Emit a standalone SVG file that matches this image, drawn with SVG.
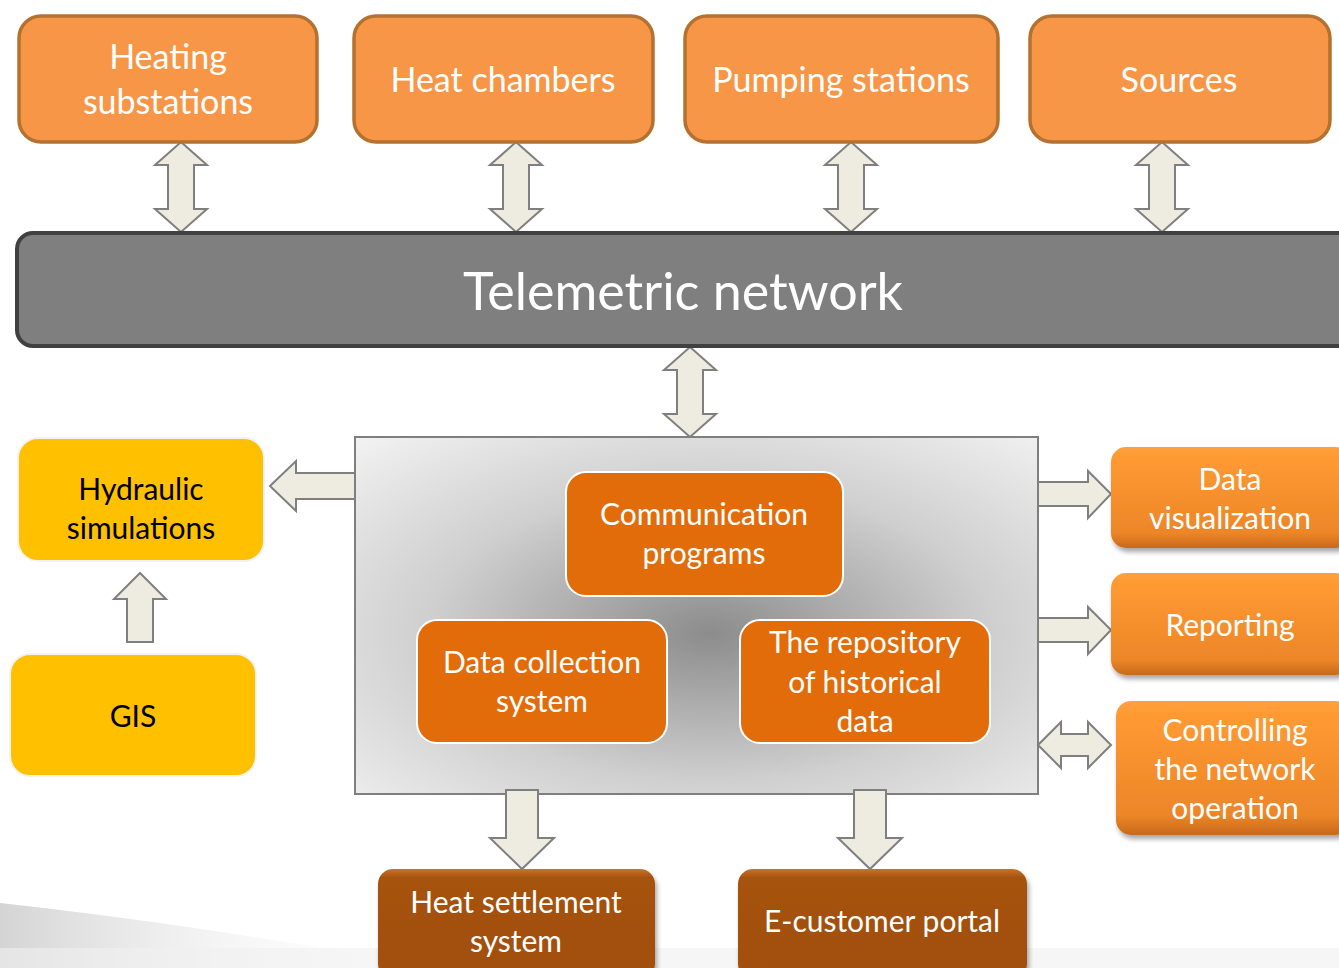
<svg xmlns="http://www.w3.org/2000/svg" width="1339" height="968" viewBox="0 0 1339 968">
<defs>
<style>
.t{font-family:Lato,"Liberation Sans",sans-serif;fill:#fff;text-anchor:middle}
.k{fill:#000}
.f1{font-size:34px}
.f2{font-size:30px}
.top{fill:#F79646;stroke:#B5712F;stroke-width:3.5}
.inner{fill:#E36C0A;stroke:#fff;stroke-width:2}
.yel{fill:#FFC000;stroke:#F2F2F2;stroke-width:2}
.arr{fill:#EEECE1;stroke:#7F7F7F;stroke-width:2;stroke-linejoin:miter}
.rbox{fill:url(#og);filter:url(#sh)}
.bbox{fill:url(#bg);filter:url(#sh)}
</style>
<radialGradient id="cg" cx="0.52" cy="0.55" r="0.75">
<stop offset="0" stop-color="#8C8C8C"/>
<stop offset="0.55" stop-color="#CFCFCF"/>
<stop offset="1" stop-color="#F2F2F2"/>
</radialGradient>
<linearGradient id="og" x1="0" y1="0" x2="0" y2="1">
<stop offset="0" stop-color="#FFA040"/>
<stop offset="0.1" stop-color="#FF9A33"/>
<stop offset="0.85" stop-color="#EC8628"/>
<stop offset="1" stop-color="#C9691A"/>
</linearGradient>
<linearGradient id="bg" x1="0" y1="0" x2="0" y2="1">
<stop offset="0" stop-color="#C8732A"/>
<stop offset="0.08" stop-color="#A5520E"/>
<stop offset="1" stop-color="#A24F0C"/>
</linearGradient>
<linearGradient id="floor" x1="0" y1="0" x2="1" y2="0">
<stop offset="0" stop-color="#D4D4D4"/>
<stop offset="1" stop-color="#FFFFFF" stop-opacity="0"/>
</linearGradient>
<filter id="sh" x="-10%" y="-10%" width="120%" height="130%">
<feGaussianBlur in="SourceAlpha" stdDeviation="2.5"/>
<feOffset dx="2" dy="4" result="b"/>
<feComponentTransfer><feFuncA type="linear" slope="0.35"/></feComponentTransfer>
<feMerge><feMergeNode/><feMergeNode in="SourceGraphic"/></feMerge>
</filter>
</defs>
<rect width="1339" height="968" fill="#fff"/>
<path d="M0 903 Q200 925 440 968 L0 968 Z" fill="url(#floor)"/>
<rect x="0" y="948" width="1339" height="20" fill="#F0F0F0" opacity="0.6"/>

<g id="central">
<rect x="355" y="437" width="683" height="357" fill="url(#cg)" stroke="#7F7F7F" stroke-width="2"/>
</g>

<g id="connectors">
<path class="arr" d="M181 142 L207 165 L194 165 L194 209 L207 209 L181 232 L155 209 L168 209 L168 165 L155 165 Z"/>
<path class="arr" d="M516 142 L542 165 L529 165 L529 209 L542 209 L516 232 L490 209 L503 209 L503 165 L490 165 Z"/>
<path class="arr" d="M851 142 L877 165 L864 165 L864 209 L877 209 L851 232 L825 209 L838 209 L838 165 L825 165 Z"/>
<path class="arr" d="M1162 142 L1188 165 L1175 165 L1175 209 L1188 209 L1162 232 L1136 209 L1149 209 L1149 165 L1136 165 Z"/>
<path class="arr" d="M690 347 L716 370 L703 370 L703 414 L716 414 L690 437 L664 414 L677 414 L677 370 L664 370 Z"/>
<path class="arr" d="M270 486 L296 461 L296 473 L355 473 L355 499 L296 499 L296 511 Z"/>
<path class="arr" d="M140 573 L166 599 L153 599 L153 642 L127 642 L127 599 L114 599 Z"/>
<path class="arr" d="M1111 494 L1088 471 L1088 482 L1038 482 L1038 506 L1088 506 L1088 518 Z"/>
<path class="arr" d="M1111 630 L1088 607 L1088 618 L1038 618 L1038 642 L1088 642 L1088 654 Z"/>
<path class="arr" d="M1038 745 L1061 722 L1061 734 L1088 734 L1088 722 L1111 745 L1088 768 L1088 756 L1061 756 L1061 768 Z"/>
<path class="arr" d="M506 790 L538 790 L538 838 L554 838 L522 869 L490 838 L506 838 Z"/>
<path class="arr" d="M854 790 L886 790 L886 838 L902 838 L870 869 L838 838 L854 838 Z"/>
</g>

<g id="telemetric">
<rect x="17" y="233" width="1345" height="113" rx="16" fill="#7F7F7F" stroke="#404040" stroke-width="4"/>
<text class="t" x="683" y="310" font-size="52">Telemetric network</text>
</g>

<g id="heating-substations">
<rect class="top" x="19" y="16" width="298" height="126" rx="22"/>
<text class="t f1" x="168" y="69">Heating</text>
<text class="t f1" x="168" y="114">substations</text>
</g>
<g id="heat-chambers">
<rect class="top" x="354" y="16" width="299" height="126" rx="22"/>
<text class="t f1" x="503" y="92">Heat chambers</text>
</g>
<g id="pumping-stations">
<rect class="top" x="685" y="16" width="313" height="126" rx="22"/>
<text class="t f1" x="841" y="92">Pumping stations</text>
</g>
<g id="sources">
<rect class="top" x="1030" y="16" width="300" height="126" rx="22"/>
<text class="t f1" x="1179" y="92">Sources</text>
</g>

<g id="communication-programs">
<rect class="inner" x="566" y="472" width="277" height="124" rx="20"/>
<text class="t f2" x="704" y="525">Communication</text>
<text class="t f2" x="704" y="564">programs</text>
</g>
<g id="data-collection">
<rect class="inner" x="417" y="620" width="250" height="123" rx="20"/>
<text class="t f2" x="542" y="673">Data collection</text>
<text class="t f2" x="542" y="712">system</text>
</g>
<g id="repository">
<rect class="inner" x="740" y="620" width="250" height="123" rx="20"/>
<text class="t f2" x="865" y="653">The repository</text>
<text class="t f2" x="865" y="693">of historical</text>
<text class="t f2" x="865" y="732">data</text>
</g>

<g id="hydraulic">
<rect class="yel" x="18" y="438" width="246" height="123" rx="20"/>
<text class="t k f2" x="141" y="500">Hydraulic</text>
<text class="t k f2" x="141" y="539">simulations</text>
</g>
<g id="gis">
<rect class="yel" x="10" y="654" width="246" height="122" rx="20"/>
<text class="t k f2" x="133" y="727">GIS</text>
</g>

<g id="data-visualization">
<rect class="rbox" x="1111" y="447" width="240" height="101" rx="15"/>
<text class="t f2" x="1230" y="490">Data</text>
<text class="t f2" x="1230" y="529">visualization</text>
</g>
<g id="reporting">
<rect class="rbox" x="1111" y="573" width="240" height="102" rx="15"/>
<text class="t f2" x="1230" y="636">Reporting</text>
</g>
<g id="controlling">
<rect class="rbox" x="1116" y="701" width="235" height="134" rx="15"/>
<text class="t f2" x="1235" y="741">Controlling</text>
<text class="t f2" x="1235" y="780">the network</text>
<text class="t f2" x="1235" y="819">operation</text>
</g>

<g id="heat-settlement">
<rect class="bbox" x="378" y="869" width="277" height="110" rx="15"/>
<text class="t f2" x="516" y="913">Heat settlement</text>
<text class="t f2" x="516" y="952">system</text>
</g>
<g id="e-customer">
<rect class="bbox" x="738" y="869" width="289" height="110" rx="15"/>
<text class="t f2" x="882" y="932">E-customer portal</text>
</g>
</svg>
